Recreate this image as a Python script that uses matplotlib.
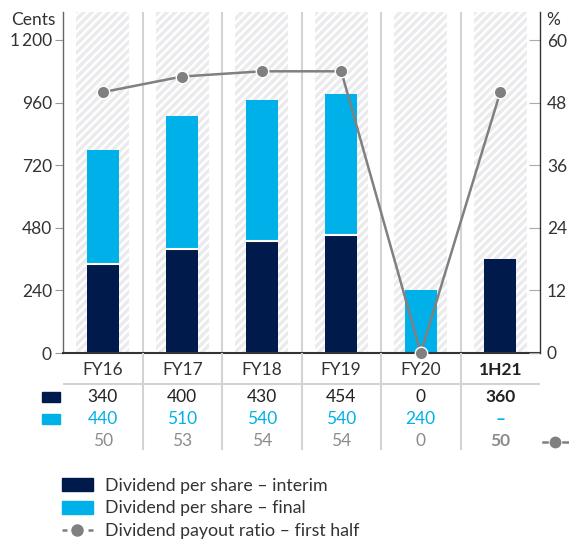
import matplotlib.pyplot as plt
from matplotlib.patches import Rectangle, Patch
from matplotlib.lines import Line2D
import numpy as np

plt.rcParams['font.family'] = ['Lato', 'DejaVu Sans']
plt.rcParams['hatch.linewidth'] = 1.8

# data
years = ['FY16', 'FY17', 'FY18', 'FY19', 'FY20', '1H21']
interim = [340, 400, 430, 454, 0, 360]
final = [440, 510, 540, 540, 240, 0]
payout = [50, 53, 54, 54, 0, 50]
interim_labels = ['340', '400', '430', '454', '0', '360']
final_labels = ['440', '510', '540', '540', '240', '–']
payout_labels = ['50', '53', '54', '54', '0', '50']

navy = '#001A4B'
cyan = '#00B0E8'
grey = '#808080'
txt = '#333333'
fs = 12.5

W, H = 569, 540
fig = plt.figure(figsize=(5.69, 5.40), dpi=100)


def box(x0, y0, x1, y1):
    # pixel box (top-left origin) -> figure fraction
    return [x0 / W, 1 - y1 / H, (x1 - x0) / W, (y1 - y0) / H]


ax = fig.add_axes(box(63, 12, 540, 353))
x = np.arange(len(years))
ytop = 1200 * (353 - 12) / (353 - 40)
ax.set_xlim(-0.5, 5.5)
ax.set_ylim(0, ytop)

# hatched background columns
for i in x:
    ax.axvspan(i - 0.333, i + 0.333, facecolor='#EBEBED', edgecolor='white',
               hatch='////', linewidth=0, zorder=0)
for b in np.arange(0.5, 5, 1):
    ax.axvline(b, color='#D3D3D3', lw=1.5, zorder=0.5)

ax.bar(x, interim, 0.4, color=navy, zorder=2)
ax.bar(x, final, 0.4, bottom=interim, color=cyan, zorder=2)
for i in x:
    if interim[i] > 0 and final[i] > 0:
        ax.hlines(interim[i], i - 0.2, i + 0.2, color='white', lw=1.5, zorder=3)

ax.set_xticks([])
ax.set_yticks([0, 240, 480, 720, 960, 1200])
ax.set_yticklabels(['0', '240', '480', '720', '960', '1\u2009200'])
ax.tick_params(axis='y', direction='out', length=6, color='#999999',
               labelsize=fs, labelcolor=txt, pad=2)
for s in ['top', 'right']:
    ax.spines[s].set_visible(False)
ax.spines['left'].set_color('#666666')
ax.spines['left'].set_linewidth(1)
ax.spines['bottom'].set_color('#333333')
ax.spines['bottom'].set_linewidth(1.5)

ax2 = ax.twinx()
ax2.set_ylim(0, ytop / 20)
ax2.plot(x, payout, color=grey, lw=1.8, marker='o', ms=9, mfc=grey,
         mec='white', mew=1, clip_on=False, zorder=5)
ax2.set_yticks([0, 12, 24, 36, 48, 60])
ax2.tick_params(axis='y', direction='in', length=8, color='#AAAAAA',
                labelsize=fs, labelcolor=txt, pad=5)
for s in ['top', 'left', 'bottom']:
    ax2.spines[s].set_visible(False)
ax2.spines['right'].set_color('#333333')
ax2.spines['right'].set_linewidth(1)

fig.text(55 / W, 1 - 20 / H, 'Cents', ha='right', va='center', fontsize=fs, color=txt)
fig.text(546 / W, 1 - 20 / H, '%', ha='left', va='center', fontsize=fs, color=txt)

# table below the chart
tax = fig.add_axes(box(63, 353, 540, 450))
tax.set_xlim(-0.5, 5.5)
tax.set_ylim(450, 353)
tax.axis('off')
tax.vlines(np.arange(0.5, 5, 1), 353, 450, color='#D3D3D3', lw=1.5)
tax.hlines(384, -0.5, 5.5, color='#D3D3D3', lw=1.5)
for i in x:
    bold = 'bold' if i == 5 else 'normal'
    tax.text(i, 370, years[i], ha='center', va='center', fontsize=fs,
             color='#222222' if i == 5 else txt, weight=bold)
    tax.text(i, 397, interim_labels[i], ha='center', va='center', fontsize=fs,
             color='#222222', weight=bold)
    tax.text(i, 419, final_labels[i], ha='center', va='center', fontsize=fs,
             color=cyan, weight=bold)
    tax.text(i, 441, payout_labels[i], ha='center', va='center', fontsize=fs,
             color='#8C8C8C', weight=bold)

# row keys
fig.add_artist(Rectangle((42 / W, 1 - 402 / H), 18 / W, 10 / H,
                         transform=fig.transFigure, color=navy))
fig.add_artist(Rectangle((42 / W, 1 - 424 / H), 18 / W, 10 / H,
                         transform=fig.transFigure, color=cyan))
ry = 1 - 442 / H
fig.add_artist(Line2D([543 / W, 547 / W], [ry, ry], transform=fig.transFigure,
                      color=grey, lw=1.8))
fig.add_artist(Line2D([563 / W, 569 / W], [ry, ry], transform=fig.transFigure,
                      color=grey, lw=1.8))
fig.add_artist(Line2D([555 / W], [ry], transform=fig.transFigure,
                      color=grey, marker='o', ms=8.5, mec='none'))

handles = [
    Patch(color=navy),
    Patch(color=cyan),
    (Line2D([], [], color=grey, lw=1.8, linestyle=(0, (2.0, 8.4))),
     Line2D([], [], color=grey, lw=0, marker='o', ms=9, mec='none')),
]
labels = ['Dividend per share – interim', 'Dividend per share – final',
          'Dividend payout ratio – first half']
leg = fig.legend(handles, labels, loc='upper left',
                 bbox_to_anchor=(62 / W, 1 - 478 / H), frameon=False,
                 fontsize=12.8, handlelength=1.74, handleheight=0.72,
                 handletextpad=0.68, labelspacing=0.36, borderpad=0,
                 borderaxespad=0)
for t in leg.get_texts():
    t.set_color(txt)

fig.savefig('out.png', dpi=100)
